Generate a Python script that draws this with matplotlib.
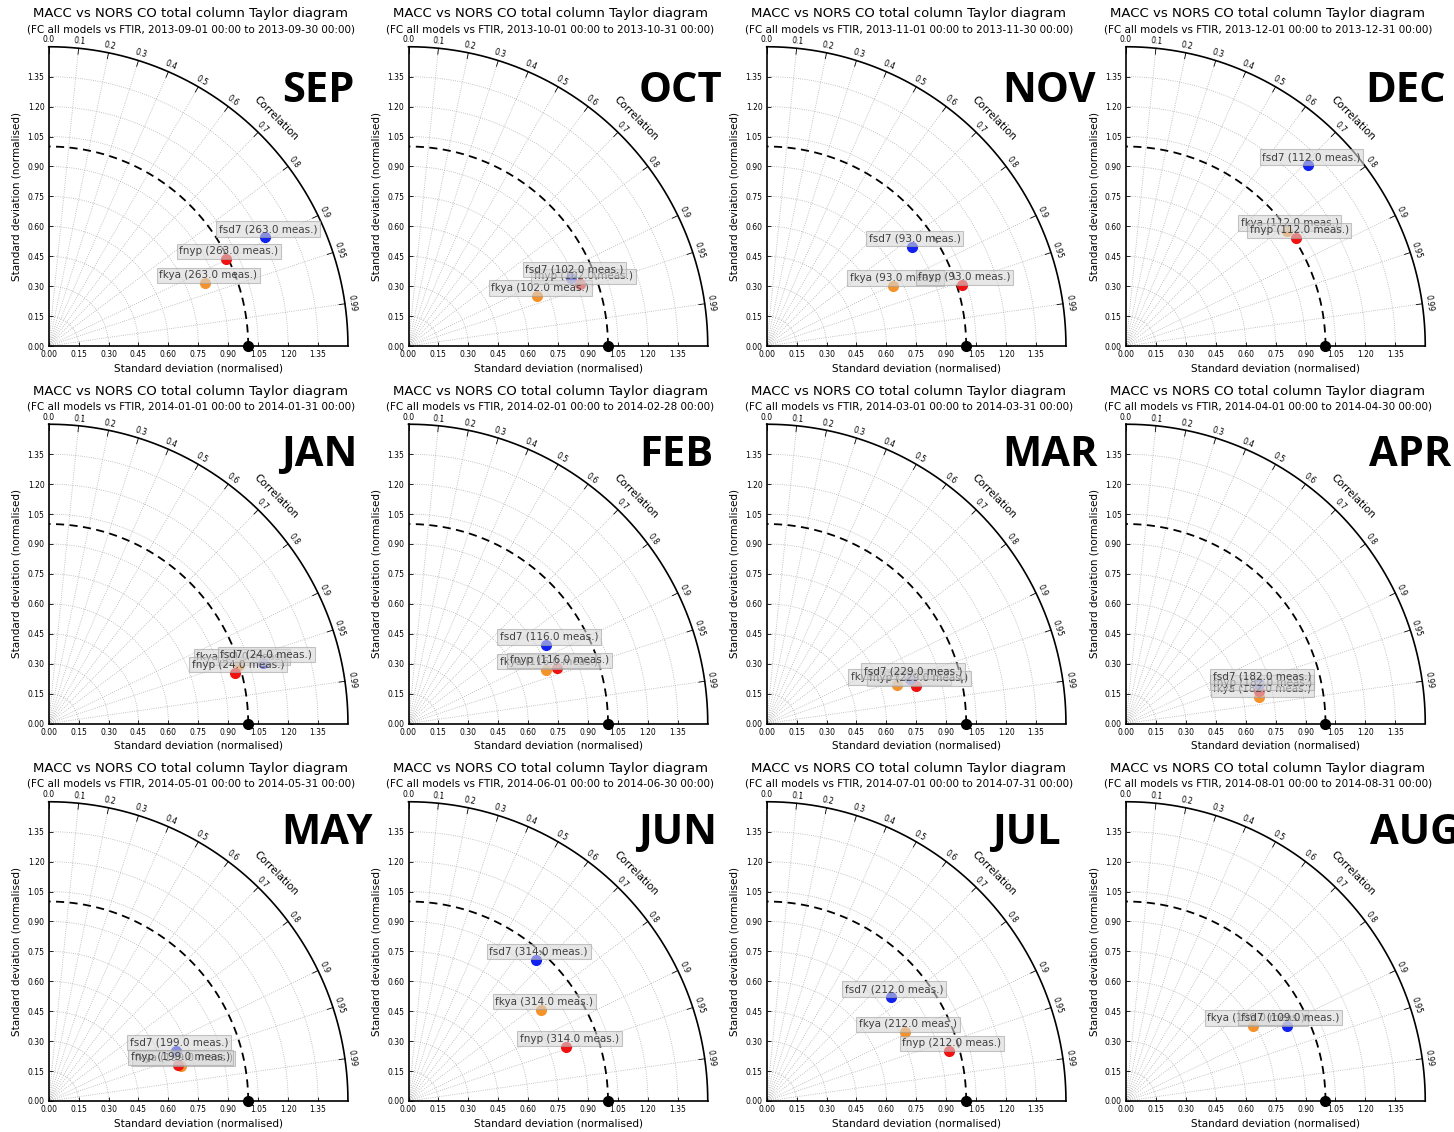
import numpy as np
import matplotlib.pyplot as plt

# one panel per month, Sep 2013 - Aug 2014
months = ['SEP', 'OCT', 'NOV', 'DEC', 'JAN', 'FEB', 'MAR', 'APR', 'MAY', 'JUN', 'JUL', 'AUG']
start_dates = ['2013-09-01', '2013-10-01', '2013-11-01', '2013-12-01', '2014-01-01', '2014-02-01',
               '2014-03-01', '2014-04-01', '2014-05-01', '2014-06-01', '2014-07-01', '2014-08-01']
end_dates = ['2013-09-30', '2013-10-31', '2013-11-30', '2013-12-31', '2014-01-31', '2014-02-28',
             '2014-03-31', '2014-04-30', '2014-05-31', '2014-06-30', '2014-07-31', '2014-08-31']
n_meas = [263.0, 102.0, 93.0, 112.0, 24.0, 116.0, 229.0, 182.0, 199.0, 314.0, 212.0, 109.0]

# normalised standard deviation and correlation of each model vs FTIR
std_fkya = [0.846, 0.692, 0.699, 0.990, 0.998, 0.739, 0.680, 0.681, 0.685, 0.808, 0.774, 0.740]
corr_fkya = [0.928, 0.932, 0.903, 0.813, 0.956, 0.931, 0.959, 0.981, 0.967, 0.824, 0.895, 0.861]
std_fnyp = [0.988, 0.916, 1.023, 1.009, 0.968, 0.792, 0.771, 0.688, 0.670, 0.837, 0.947, np.nan]
corr_fnyp = [0.898, 0.941, 0.955, 0.845, 0.965, 0.937, 0.970, 0.971, 0.964, 0.946, 0.965, np.nan]
std_fsd7 = [1.213, 0.886, 0.882, 1.288, 1.117, 0.793, 0.752, 0.696, 0.686, 0.953, 0.812, 0.891]
corr_fsd7 = [0.893, 0.922, 0.825, 0.710, 0.962, 0.868, 0.955, 0.959, 0.930, 0.669, 0.767, 0.906]

models = ['fkya', 'fnyp', 'fsd7']
model_std = [std_fkya, std_fnyp, std_fsd7]
model_corr = [corr_fkya, corr_fnyp, corr_fsd7]
model_colors = ['#f5922a', '#f01010', '#1020f0']

corr_ticks = [0.0, 0.1, 0.2, 0.3, 0.4, 0.5, 0.6, 0.7, 0.8, 0.9, 0.95, 0.99]
std_ticks = [0.0, 0.15, 0.30, 0.45, 0.60, 0.75, 0.90, 1.05, 1.20, 1.35]
smax = 1.5

# layout (pixels)
W, H = 1454.0, 1132.0
scale = 199.5
col_x = [48.7, 408.5, 766.7, 1126.0]
row_y = [346.0, 723.5, 1101.0]
month_x = [281.7, 639.0, 1002.7, 1365.7, 281.0, 639.3, 1002.7, 1369.3, 281.7, 638.3, 991.7, 1370.0]
month_base = [102.5, 466.0, 844.0]


def taylor(k):
    x0 = col_x[k % 4]
    y0 = row_y[k // 4]
    ax = fig.add_axes([x0 / W, (H - y0) / H, smax * scale / W, smax * scale / H])
    ax.set_xlim(0, smax)
    ax.set_ylim(0, smax)
    ax.patch.set_visible(False)

    for s in ['top', 'right']:
        ax.spines[s].set_visible(False)
    for s in ['left', 'bottom']:
        ax.spines[s].set_linewidth(1.2)

    ax.set_xticks(std_ticks)
    ax.set_yticks(std_ticks)
    ax.set_xticklabels(['%.2f' % v for v in std_ticks])
    ax.set_yticklabels(['%.2f' % v for v in std_ticks])
    ax.tick_params(direction='in', length=3, width=0.6, labelsize=5.5, pad=3)
    ax.set_xlabel('Standard deviation (normalised)', fontsize=7.5, labelpad=3)
    ax.set_ylabel('Standard deviation (normalised)', fontsize=7.5, labelpad=4)

    t = np.linspace(0, np.pi / 2, 200)
    # dotted grid
    for s in std_ticks[1:]:
        ax.plot(s * np.cos(t), s * np.sin(t), ':', color='#b0b0b0', lw=0.6, zorder=1)
    for c in corr_ticks[1:]:
        th = np.arccos(c)
        ax.plot([0, smax * np.cos(th)], [0, smax * np.sin(th)], ':', color='#b0b0b0', lw=0.6, zorder=1)

    # outer arc with correlation ticks
    ax.plot(smax * np.cos(t), smax * np.sin(t), 'k-', lw=1.2, clip_on=False)
    for c in corr_ticks:
        th = np.arccos(c)
        ax.plot([(smax - 0.03) * np.cos(th), smax * np.cos(th)],
                [(smax - 0.03) * np.sin(th), smax * np.sin(th)], 'k-', lw=0.6)
        ax.text(1.535 * np.cos(th), 1.535 * np.sin(th), str(c), fontsize=5.5,
                rotation=np.degrees(th) - 90, ha='center', va='center')
    ax.text(1.61 * np.cos(np.pi / 4), 1.61 * np.sin(np.pi / 4), 'Correlation',
            fontsize=7.5, rotation=-45, ha='center', va='center')

    # reference std circle and reference point
    ax.plot(np.cos(t), np.sin(t), color='k', lw=1.3, ls=(0, (4.5, 3)))
    ax.plot(1, 0, 'o', color='k', ms=7, clip_on=False, zorder=5)

    for name, std, corr, col in zip(models, model_std, model_corr, model_colors):
        if np.isnan(std[k]):
            continue
        th = np.arccos(corr[k])
        px, py = std[k] * np.cos(th), std[k] * np.sin(th)
        ax.plot(px, py, 'o', color=col, mec=col, ms=7, zorder=3)
        ax.annotate('%s (%.1f meas.)' % (name, n_meas[k]), (px, py), xytext=(3, 8),
                    textcoords='offset pixels', ha='center', va='center', fontsize=7.5,
                    color='#404040', zorder=4,
                    bbox=dict(boxstyle='square,pad=0.25', fc='#d8d8d8', ec='#a0a0a0',
                              lw=0.8, alpha=0.6))

    tx = (x0 + 142) / W
    fig.text(tx, 1 - (y0 - 332.5) / H, 'MACC vs NORS CO total column Taylor diagram',
             fontsize=9.5, ha='center', va='center')
    fig.text(tx, 1 - (y0 - 317) / H,
             '(FC all models vs FTIR, %s 00:00 to %s 00:00)' % (start_dates[k], end_dates[k]),
             fontsize=7.5, ha='center', va='center')


fig = plt.figure(figsize=(14.54, 11.32), dpi=100)

for k in range(12):
    taylor(k)

for k in range(12):
    fig.text(month_x[k] / W, 1 - month_base[k // 4] / H, months[k], fontsize=30,
             fontweight='bold', family=['Open Sans', 'DejaVu Sans'],
             ha='left', va='baseline')

fig.savefig('out.png', dpi=100)
